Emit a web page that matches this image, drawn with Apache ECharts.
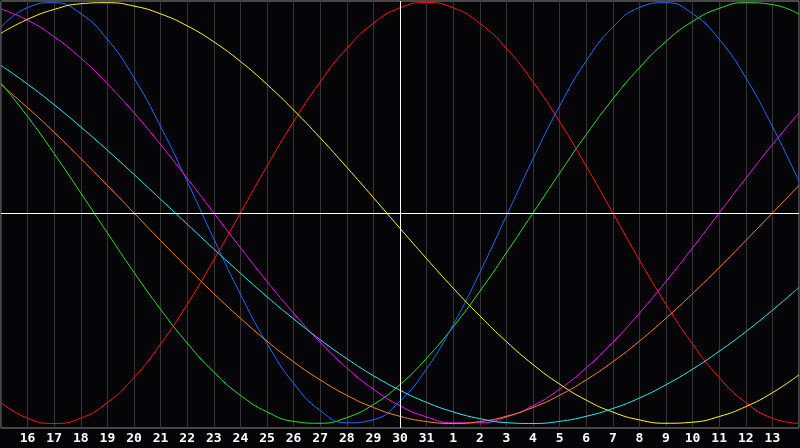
<!DOCTYPE html>
<html>
<head>
	<meta charset="UTF-8">
	<title></title>
	<script type="text/javascript" src="https://cdn.jsdelivr.net/npm/echarts@6/dist/echarts.min.js"></script>
	<style>
		html,body{
			margin:0;
			padding:0;
			background:#050508;
		}
		#bio_chart{
			width:800px;
			height:448px;
		}
	</style>
</head>
<body>
<div id="bio_chart"></div>
<script>
	// 日期刻度（15日 ~ 次月14日）
	var days = ['15','16','17','18','19','20','21','22','23','24','25','26','27','28','29','30','31',
	            '1','2','3','4','5','6','7','8','9','10','11','12','13','14'];

	// 各周期读数（-100 ~ 100）
	var physical = [88.2, 97.6, 99.9, 94.7, 82.5, 64.2, 41.1, 15.0, -12.3, -38.6, -62.0, -80.9, -93.8, -99.7, -98.2, -89.4,
	                -74.0, -53.1, -28.3, -1.4, 25.7, 50.8, 72.2, 88.2, 97.6, 99.9, 94.7, 82.5, 64.2, 41.1, 15.0];
	var emotional = [-90.1, -97.5, -100, -97.5, -90.1, -78.2, -62.3, -43.4, -22.3, 0, 22.3, 43.4, 62.3, 78.2, 90.1, 97.5,
	                 100, 97.5, 90.1, 78.2, 62.3, 43.4, 22.3, 0, -22.3, -43.4, -62.3, -78.2, -90.1, -97.5, -100];
	var intellectual = [61.8, 45.8, 28.2, 9.5, -9.5, -28.2, -45.8, -61.8, -75.6, -86.6, -94.5, -99.0, -99.9, -97.2, -91.0, -81.5,
	                    -69.0, -54.1, -37.2, -18.9, 0, 18.9, 37.2, 54.1, 69.0, 81.5, 91.0, 97.2, 99.9, 99.0, 94.5];
	var intuitive = [96.9, 91.6, 83.7, 73.6, 61.4, 47.6, 32.5, 16.5, 0, -16.5, -32.5, -47.6, -61.4, -73.6, -83.7, -91.6,
	                 -96.9, -99.7, -99.7, -96.9, -91.6, -83.7, -73.6, -61.4, -47.6, -32.5, -16.5, 0, 16.5, 32.5, 47.6];
	var aesthetic = [85.4, 92.0, 96.7, 99.4, 99.9, 98.3, 94.6, 88.9, 81.3, 72.0, 61.1, 48.9, 35.7, 21.7, 7.3, -7.3,
	                 -21.7, -35.7, -48.9, -61.1, -72.0, -81.3, -88.9, -94.6, -98.3, -99.9, -99.4, -96.7, -92.0, -85.4, -76.9];
	var awareness = [60.9, 50.0, 38.3, 25.9, 13.1, 0, -13.1, -25.9, -38.3, -50.0, -60.9, -70.7, -79.3, -86.6, -92.4, -96.6,
	                 -99.1, -100, -99.1, -96.6, -92.4, -86.6, -79.3, -70.7, -60.9, -50.0, -38.3, -25.9, -13.1, 0, 13.1];
	var spiritual = [70.1, 61.2, 51.4, 40.9, 29.8, 18.3, 6.5, -5.3, -17.1, -28.6, -39.8, -50.3, -60.2, -69.2, -77.3, -84.2,
	                 -90.0, -94.5, -97.7, -99.6, -100.0, -99.0, -96.6, -92.9, -87.9, -81.6, -74.2, -65.7, -56.4, -46.2, -35.4];

	var today = '30';

	function curve(name, data, color){
		return {
			name: name,
			type: 'line',
			data: data,
			smooth: true,
			showSymbol: false,
			lineStyle: {color: color, width: 1},
			itemStyle: {color: color}
		};
	}

	var myChart = echarts.init(document.getElementById('bio_chart'));
	var option = {
		backgroundColor: '#050508',
		animation: false,
		grid: {
			left: 1, right: 1, top: 1, bottom: 20,
			outerBoundsMode: 'none',
			containLabel: false,
			show: true,
			borderColor: '#8a8a8a',
			borderWidth: 1
		},
		xAxis: {
			type: 'category',
			boundaryGap: false,
			data: days,
			axisLine: {lineStyle: {color: '#9a9a9a'}},
			axisTick: {show: false},
			axisLabel: {
				interval: 0,
				color: '#ffffff',
				fontFamily: 'DejaVu Sans Mono',
				fontWeight: 'bold',
				fontSize: 13,
				margin: 4,
				//首尾两天不显示
				formatter: function(v, i){
					return (i === 0 || i === days.length - 1) ? '' : v;
				}
			},
			splitLine: {show: true, interval: 0, lineStyle: {color: '#353535', width: 1}}
		},
		yAxis: {
			type: 'value',
			min: -102.15,
			max: 100.7,
			show: false,
			splitLine: {show: false}
		},
		series: [
			curve('智力', intellectual, '#22e622'),
			curve('情绪', emotional, '#ff1010'),
			curve('体力', physical, '#1a6cff'),
			curve('直觉', intuitive, '#f010f0'),
			curve('美感', aesthetic, '#ffff10'),
			curve('觉知', awareness, '#ff8418'),
			curve('精神', spiritual, '#22f0f0'),
			{
				type: 'line',
				data: [],
				silent: true,
				markLine: {
					symbol: 'none',
					silent: true,
					label: {show: false},
					lineStyle: {color: '#ffffff', width: 1, type: 'solid'},
					data: [{xAxis: today}, {yAxis: 0}]
				}
			}
		]
	};

	myChart.setOption(option);
</script>
</body>
</html>
